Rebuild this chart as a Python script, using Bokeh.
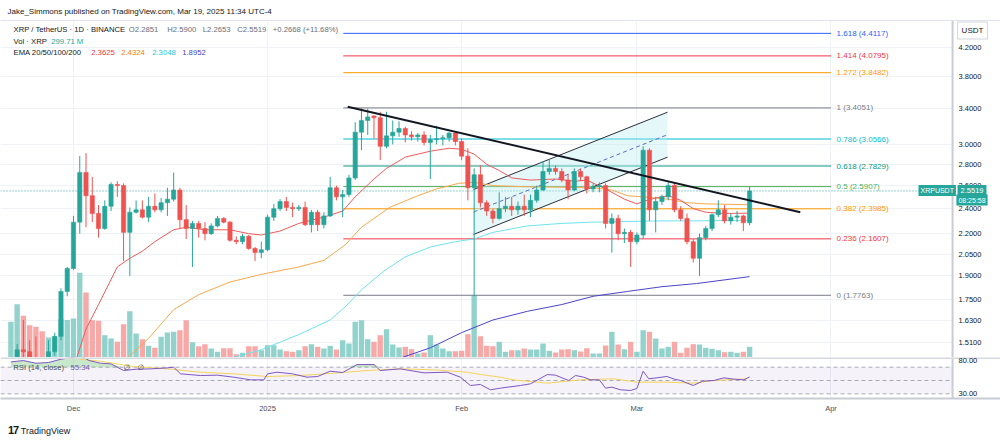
import pandas as pd
from bokeh.plotting import figure
from bokeh.layouts import column
from bokeh.models import (Range1d, LinearScale, FixedTicker, Label, Span, BoxAnnotation, Grid,
                          ColumnDataSource, Div)
from bokeh.core.properties import value
from bokeh.embed import file_html
from bokeh.resources import INLINE

FONT = "Liberation Sans"
UP, DOWN = "#26a69a", "#ef5350"
UP_VOL, DOWN_VOL = "#92d2cc", "#f7a9a8"
INK, GREY = "#131722", "#787b86"
GRID = "#eef1f6"

# ---------------- data (XRP / TetherUS, 1D, Binance) ----------------
dates = pd.date_range("2024-11-21", "2025-03-19", freq="D")
origin = pd.Timestamp("2024-12-01")   # x axis unit: days since 1 Dec 2024

opens = [1.12, 1.40, 1.47, 1.46, 1.43, 1.40, 1.39, 1.46, 1.54, 1.80,
         1.95, 2.29, 2.72, 2.51, 2.36, 2.24, 2.42, 2.61, 2.60, 2.21,
         2.37, 2.39, 2.33, 2.42, 2.39, 2.45, 2.48, 2.56, 2.31, 2.24,
         2.28, 2.24, 2.20, 2.26, 2.32, 2.29, 2.15, 2.14, 2.18, 2.09,
         2.06, 2.08, 2.33, 2.40, 2.46, 2.41, 2.40, 2.41, 2.27, 2.37,
         2.27, 2.34, 2.58, 2.50, 2.52, 2.67, 3.13, 3.26, 3.31, 3.29,
         2.98, 3.09, 3.13, 3.17, 3.10, 3.08, 3.10, 3.02, 3.05, 3.06,
         3.07, 3.12, 3.03, 2.88, 2.58, 2.70, 2.45, 2.38, 2.32, 2.40,
         2.42, 2.39, 2.42, 2.39, 2.47, 2.56, 2.73, 2.76, 2.73, 2.65,
         2.56, 2.73, 2.68, 2.57, 2.59, 2.60, 2.28, 2.32, 2.20, 2.21,
         2.14, 2.19, 2.94, 2.39, 2.46, 2.50, 2.60, 2.39, 2.32, 2.14,
         2.02, 2.17, 2.24, 2.35, 2.39, 2.30, 2.33, 2.34, 2.2851]
highs = [1.42, 1.50, 1.63, 1.52, 1.54, 1.43, 1.52, 1.56, 1.82, 1.96,
         2.34, 2.88, 2.91, 2.68, 2.43, 2.47, 2.63, 2.64, 2.62, 2.41,
         2.47, 2.47, 2.50, 2.53, 2.49, 2.58, 2.72, 2.58, 2.43, 2.30,
         2.30, 2.29, 2.28, 2.34, 2.33, 2.30, 2.18, 2.20, 2.19, 2.10,
         2.14, 2.35, 2.44, 2.48, 2.50, 2.45, 2.43, 2.46, 2.39, 2.39,
         2.37, 2.68, 2.60, 2.56, 2.70, 3.24, 3.40, 3.40, 3.32, 3.36,
         3.36, 3.26, 3.25, 3.19, 3.14, 3.12, 3.14, 3.10, 3.20, 3.10,
         3.13, 3.14, 3.06, 2.96, 2.76, 2.79, 2.47, 2.40, 2.54, 2.50,
         2.50, 2.46, 2.52, 2.52, 2.60, 2.83, 2.85, 2.79, 2.76, 2.71,
         2.76, 2.76, 2.69, 2.62, 2.63, 2.62, 2.36, 2.35, 2.24, 2.23,
         2.21, 2.98, 2.96, 2.50, 2.52, 2.63, 2.62, 2.42, 2.36, 2.16,
         2.20, 2.26, 2.36, 2.47, 2.43, 2.36, 2.38, 2.35, 2.59]
lows = [1.10, 1.36, 1.42, 1.38, 1.36, 1.30, 1.37, 1.44, 1.52, 1.77,
        1.94, 2.20, 2.25, 2.29, 2.17, 2.23, 2.38, 2.50, 2.00, 1.90,
        2.36, 2.32, 2.29, 2.37, 2.37, 2.34, 2.46, 2.24, 2.16, 1.96,
        2.17, 2.15, 2.19, 2.25, 2.28, 2.14, 2.12, 2.12, 2.08, 2.00,
        2.02, 2.07, 2.30, 2.38, 2.38, 2.33, 2.38, 2.26, 2.21, 2.22,
        2.24, 2.33, 2.47, 2.33, 2.50, 2.65, 2.94, 3.10, 3.06, 2.84,
        2.96, 3.00, 3.08, 3.02, 3.04, 3.03, 2.99, 2.66, 3.00, 2.99,
        3.03, 2.99, 2.84, 2.47, 1.77, 2.41, 2.34, 2.28, 2.31, 2.37,
        2.34, 2.35, 2.34, 2.33, 2.45, 2.55, 2.70, 2.70, 2.63, 2.48,
        2.55, 2.64, 2.53, 2.54, 2.54, 2.24, 2.06, 2.15, 2.13, 1.96,
        2.12, 2.16, 2.30, 2.21, 2.43, 2.47, 2.37, 2.30, 2.12, 1.99,
        1.90, 2.15, 2.22, 2.33, 2.28, 2.27, 2.29, 2.22, 2.2653]
closes = [1.40, 1.47, 1.46, 1.43, 1.40, 1.39, 1.46, 1.54, 1.80, 1.95,
          2.29, 2.72, 2.51, 2.36, 2.24, 2.42, 2.61, 2.60, 2.21, 2.37,
          2.39, 2.33, 2.42, 2.39, 2.45, 2.48, 2.56, 2.31, 2.24, 2.28,
          2.24, 2.20, 2.26, 2.32, 2.29, 2.15, 2.14, 2.18, 2.09, 2.06,
          2.08, 2.33, 2.40, 2.46, 2.41, 2.40, 2.41, 2.27, 2.37, 2.27,
          2.34, 2.58, 2.50, 2.52, 2.67, 3.13, 3.26, 3.30, 3.29, 2.98,
          3.09, 3.13, 3.17, 3.10, 3.08, 3.10, 3.02, 3.05, 3.06, 3.07,
          3.12, 3.03, 2.88, 2.58, 2.70, 2.45, 2.38, 2.32, 2.40, 2.42,
          2.39, 2.42, 2.39, 2.47, 2.56, 2.73, 2.76, 2.73, 2.65, 2.56,
          2.73, 2.68, 2.57, 2.59, 2.60, 2.28, 2.32, 2.20, 2.21, 2.14,
          2.19, 2.94, 2.39, 2.46, 2.50, 2.60, 2.39, 2.32, 2.14, 2.02,
          2.17, 2.24, 2.35, 2.39, 2.30, 2.33, 2.34, 2.2851, 2.5519]
volumes_m = [1000, 1490, 1170, 905, 860, 736, 560, 560, 1072, 1050,
             1090, 2370, 1820, 1045, 1028, 624, 532, 440, 932, 1296,
             672, 512, 328, 272, 580, 700, 720, 764, 1044, 428,
             316, 372, 252, 160, 260, 260, 92, 132, 316, 316,
             204, 344, 344, 224, 176, 160, 204, 316, 372, 300,
             252, 328, 224, 484, 392, 1000, 1044, 512, 440, 624,
             792, 364, 280, 300, 232, 112, 140, 624, 364, 252,
             176, 176, 188, 652, 1744, 596, 328, 316, 440, 160,
             204, 204, 252, 224, 224, 392, 188, 140, 224, 232,
             204, 168, 260, 112, 112, 336, 720, 364, 232, 440,
             160, 764, 720, 532, 252, 300, 440, 132, 272, 372,
             364, 272, 244, 204, 148, 160, 132, 160, 299.71]

# EMA lines (x = days since 1 Dec 2024)
ema20_x = [0, 2, 4, 7, 9, 11, 13, 16, 18, 21, 25, 28, 30, 33, 36, 40, 43, 45, 48, 50, 53, 57, 60,
           62, 64, 66, 68, 70, 73, 77, 80, 82, 85, 88, 90, 91, 93, 95, 97, 99, 101, 104, 108]
ema20_v = [1.38, 1.58, 1.72, 1.96, 2.02, 2.07, 2.14, 2.23, 2.25, 2.23, 2.23, 2.20, 2.19, 2.22, 2.28,
           2.33, 2.38, 2.50, 2.66, 2.76, 2.87, 2.93, 2.96, 2.95, 2.90, 2.80, 2.74, 2.67, 2.65, 2.66,
           2.64, 2.65, 2.57, 2.48, 2.44, 2.46, 2.49, 2.51, 2.47, 2.40, 2.37, 2.36, 2.3625]
ema50_x = [8, 12, 16, 20, 25, 30, 36, 40, 43.5, 46, 50.5, 55, 58, 61.5, 64, 67, 72, 78, 83, 86,
           88.5, 91, 95, 98, 101, 108]
ema50_v = [1.41, 1.53, 1.69, 1.78, 1.86, 1.91, 1.96, 2.005, 2.12, 2.25, 2.41, 2.51, 2.57, 2.62,
           2.63, 2.60, 2.59, 2.585, 2.58, 2.56, 2.51, 2.50, 2.48, 2.45, 2.44, 2.4324]
ema100_x = [25.4, 30, 36, 41, 43.5, 46, 49.5, 53, 57, 61, 64, 67, 72.5, 78, 83, 88.5, 94, 99, 108]
ema100_v = [1.43, 1.47, 1.55, 1.63, 1.71, 1.81, 1.93, 2.03, 2.10, 2.14, 2.16, 2.21, 2.26, 2.28,
            2.29, 2.295, 2.30, 2.30, 2.3048]
ema200_x = [52.4, 57, 62, 67, 72.5, 78, 83, 88.5, 94, 99.5, 108]
ema200_v = [1.43, 1.48, 1.56, 1.63, 1.68, 1.72, 1.77, 1.80, 1.83, 1.85, 1.8952]

# RSI (14, close) and its moving average
rsi_x = [-10, -8, -6, -4, -2, 0, 1, 2.5, 4.3, 6, 8, 10, 12.3, 15, 16, 17.1, 20.3, 23, 25.6, 28.3,
         30.4, 31, 32.5, 35, 37.3, 39, 41, 43, 45.3, 48, 49, 52.2, 56, 59.7, 61.8, 63.4, 65, 66.6,
         68.2, 71.4, 73, 75.7, 77, 79.1, 80.2, 81.5, 82.6, 84, 85, 86, 87.4, 89, 90, 91, 91.9, 94.8,
         96, 97, 99, 100.5, 102.3, 103.9, 105.5, 107.1, 108]
rsi_v = [78, 80, 76, 77, 82, 85, 88, 80, 76, 75, 65, 67, 67.5, 69, 70, 60, 57.5, 58, 55, 51,
         51, 60, 62.5, 60, 55, 56, 64, 62, 74, 74, 65, 67.5, 61.5, 62.5, 55, 42.5, 44, 36,
         38.5, 42.5, 45, 59, 58, 50, 57.5, 55, 51, 51, 38.5, 40, 36, 35, 38, 64, 52.5, 56,
         52, 50, 42.5, 49, 50, 54, 52, 51, 55.34]
rsima_x = [1, 4.3, 9.6, 15, 20.3, 25.6, 31, 36.3, 41.6, 46.9, 52.2, 57.6, 62.9, 65, 68.2, 70.3,
           75.7, 81, 86.3, 90, 94.8, 99, 102.3, 107.6]
rsima_v = [82, 79, 71, 67.5, 62.5, 60, 56, 57.5, 61, 65, 67.5, 66, 62.5, 59, 55, 51,
           46, 51, 52.5, 47.5, 47.5, 46, 50, 52.5]
rsi_bands = [70, 50, 30]

# Drawings
fib_ratios = ["0", "0.236", "0.382", "0.5", "0.618", "0.786", "1", "1.272", "1.414", "1.618"]
fib_prices = [1.7763, 2.1607, 2.3985, 2.5907, 2.7829, 3.0566, 3.4051, 3.8482, 4.0795, 4.4117]
fib_colors = ["#787b86", "#f23645", "#ff9800", "#4caf50", "#089981", "#00bcd4",
              "#787b86", "#ff9800", "#f23645", "#2962ff"]
fib_span = [43.1, 121.0]
trend_x, trend_p = [43.8, 116.1], [3.42, 2.37]
chan_x = [63.9, 94.9]
chan_lower = [2.194, 2.870]
chan_upper = [2.565, 3.355]
chan_mid = [2.372, 3.103]
last_price = 2.5519

month_dates = ["2024-12-01", "2025-01-01", "2025-02-01", "2025-03-01", "2025-04-01"]
month_labels = ["Dec", "2025", "Feb", "Mar", "Apr"]
price_ticks = [1.51, 1.63, 1.75, 1.90, 2.05, 2.20, 2.40, 2.60, 2.80, 3.00, 3.40, 3.80, 4.20]
rsi_ticks = [80, 30]

# ---------------- layout constants (screen) ----------------
W = 1000
MAIN_H = 357          # main frame: page y 0..357, header inside
RSI_H = 41            # rsi frame: page y 357..398
X_RANGE = (-11.66, 148.08)   # 6.26 px per day, Dec 1 at x=73
AXIS_D = 140.42              # day position of the price-scale border (x=952)
P_RANGE = (1.431, 4.945)     # log price range of the main frame
PANE_TOP = 4.613             # price at the chart's top border (y=20)
VOL_RANGE = (0, 9996)
RSI_RANGE = (22.93, 84.59)
LEG = "7.7px"

xs = [(d - origin).days for d in dates]
month_x = [(pd.Timestamp(m) - origin).days for m in month_dates]
x_range = Range1d(*X_RANGE)

up = [c >= o for o, c in zip(opens, closes)]
src = ColumnDataSource(dict(
    x=xs, o=opens, h=highs, l=lows, c=closes,
    top=[max(o, c) for o, c in zip(opens, closes)],
    bottom=[min(o, c) for o, c in zip(opens, closes)],
    color=[UP if u else DOWN for u in up],
    vcolor=[UP_VOL if u else DOWN_VOL for u in up],
    vol=volumes_m))

p = figure(frame_width=W, frame_height=MAIN_H, x_range=x_range, y_range=Range1d(*P_RANGE),
           y_axis_type="log", x_axis_location=None, y_axis_location=None,
           toolbar_location=None, output_backend="svg",
           min_border_left=0, min_border_right=0, min_border_top=0, min_border_bottom=0,
           outline_line_color=None, background_fill_color="white", border_fill_color="white")
p.extra_y_ranges = {"vol": Range1d(*VOL_RANGE)}
p.extra_y_scales = {"vol": LinearScale()}
for g in list(p.xgrid) + list(p.ygrid):
    g.visible = False
p.add_layout(Grid(dimension=0, ticker=FixedTicker(ticks=month_x), grid_line_color=GRID))
p.add_layout(Grid(dimension=1, ticker=FixedTicker(ticks=price_ticks), grid_line_color=GRID))
price_line = Span(location=last_price, dimension="width", line_color=UP, line_width=1,
                  line_dash="1 2", level="underlay")
p.add_layout(price_line)
# blank price-scale column and header strip
p.add_layout(BoxAnnotation(left=AXIS_D, fill_color="white", fill_alpha=1, line_color=None,
                           level="underlay"))
p.add_layout(BoxAnnotation(bottom=PANE_TOP, fill_color="white", fill_alpha=1, line_color=None,
                           level="underlay"))
p.add_layout(Span(location=PANE_TOP, dimension="width", line_color="#e0e3eb", line_width=1))

# volume
p.vbar(x="x", top="vol", bottom=0, width=0.86, fill_color="vcolor", line_color=None,
       y_range_name="vol", source=src)

# fib retracement
fib_src = ColumnDataSource(dict(
    xs=[fib_span for _ in fib_prices], ys=[[v, v] for v in fib_prices], color=fib_colors,
    lx=[fib_span[1] + 0.9 for _ in fib_prices], ly=fib_prices,
    text=[f"{r} ({v:.4f})" for r, v in zip(fib_ratios, fib_prices)]))
p.multi_line(xs="xs", ys="ys", line_color="color", line_width=1, source=fib_src)
p.text(x="lx", y="ly", text="text", text_color="color", text_font=value(FONT),
       text_font_size=value("8px"), text_baseline="middle", text_align="left", source=fib_src)

# ascending channel
p.patch(x=[chan_x[0], chan_x[1], chan_x[1], chan_x[0]],
        y=[chan_lower[0], chan_lower[1], chan_upper[1], chan_upper[0]],
        fill_color="#b2ebf2", fill_alpha=0.35, line_color=None)
p.line(chan_x, chan_lower, line_color="#2a2e39", line_width=1)
p.line(chan_x, chan_upper, line_color="#2a2e39", line_width=1)
p.line(chan_x, chan_mid, line_color="#5c6bc0", line_width=1, line_dash="4 3")

# EMAs
p.line(ema200_x, ema200_v, line_color="#4b45c8", line_width=1)
p.line(ema100_x, ema100_v, line_color="#6fe3ee", line_width=1)
p.line(ema50_x, ema50_v, line_color="#f9a84d", line_width=1)
p.line(ema20_x, ema20_v, line_color="#ef5a5a", line_width=1)

# candles
p.segment(x0="x", y0="l", x1="x", y1="h", line_color="color", line_width=1, source=src)
p.vbar(x="x", top="top", bottom="bottom", width=0.68, fill_color="color", line_color="color",
       line_width=0.6, source=src)

# descending trend line
p.line(trend_x, trend_p, line_color=INK, line_width=2)

# price-scale border
p.segment(x0=[AXIS_D], y0=[P_RANGE[0]], x1=[AXIS_D], y1=[PANE_TOP], line_color="#c9ccd4",
          line_width=2)


def lab(fig, x, y, text, size="8px", color=INK, font=FONT, y_units="screen", **kw):
    fig.add_layout(Label(x=x, y=y, x_units="screen", y_units=y_units, text=text,
                         text_font=font, text_font_size=size, text_color=color,
                         text_baseline="middle", **kw))


# price scale labels
for t in price_ticks:
    lab(p, 958, t, f"{t:.4f}", "7.5px", INK, y_units="data")

MB = MAIN_H  # page y of main frame bottom
lab(p, 7, MB - 11, "Jake_Simmons published on TradingView.com, Mar 19, 2025 11:34 UTC-4", "8px")
lab(p, 13, MB - 29.3, "XRP / TetherUS · 1D · BINANCE", LEG)
for px_, t in [(128.3, "O2.2851"), (166.7, "H2.5900"), (202.3, "L2.2653"),
               (236.7, "C2.5519"), (272.3, "+0.2668 (+11.68%)")]:
    lab(p, px_, MB - 29.3, t, LEG, "#6a6d78")
lab(p, 13, MB - 41, "Vol · XRP", LEG)
lab(p, 50.7, MB - 41, "299.71 M", LEG, UP)
lab(p, 13, MB - 52.3, "EMA 20/50/100/200", LEG)
for px_, t, c in [(90.7, "2.3625", "#f23645"), (120.7, "2.4324", "#f57c00"),
                  (151.7, "2.3048", "#26c6da"), (181.7, "1.8952", "#3f3fc6")]:
    lab(p, px_, MB - 52.3, t, LEG, c)

lab(p, 972, MB - 30, "USDT", "8px", INK, text_align="center",
    border_line_color="#d1d4dc", background_fill_color="white", padding=4)
lab(p, 918, MB - 190, "XRPUSDT", "7px", "white", background_fill_color=UP, padding=2)
lab(p, 971.5, MB - 190, "2.5519", "7.5px", "white", text_align="center",
    background_fill_color=UP, padding=3)
lab(p, 971.5, MB - 199.5, "08:25:58", "7px", "white", text_align="center",
    background_fill_color=UP, padding=2)

# ---------------- RSI pane ----------------
r = figure(frame_width=W, frame_height=RSI_H, x_range=x_range, y_range=Range1d(*RSI_RANGE),
           y_axis_location=None, toolbar_location=None, output_backend="svg",
           min_border_left=0, min_border_right=0, min_border_top=0, min_border_bottom=20,
           outline_line_color=None, background_fill_color="white", border_fill_color="white")
r.ygrid.visible = False
r.xgrid.ticker = FixedTicker(ticks=month_x)
r.xgrid.grid_line_color = GRID
r.add_layout(BoxAnnotation(bottom=rsi_bands[2], top=rsi_bands[0], right=AXIS_D,
                           fill_color="#7e57c2", fill_alpha=0.08, line_color=None,
                           level="underlay"))
for b in rsi_bands:
    r.add_layout(Span(location=b, dimension="width", line_color="#9598a1", line_width=1,
                      line_dash="4 3", line_alpha=0.8, level="underlay"))
r.add_layout(BoxAnnotation(left=AXIS_D, fill_color="white", fill_alpha=1, line_color=None,
                           level="underlay"))
r.add_layout(Span(location=RSI_RANGE[1], dimension="width", line_color="#d6d9e0", line_width=3))
r.varea(x=rsi_x, y1=[rsi_bands[0]] * len(rsi_x), y2=[max(v, rsi_bands[0]) for v in rsi_v],
        fill_color="#4caf50", fill_alpha=0.3)
r.line(rsima_x, rsima_v, line_color="#f5d35a", line_width=1)
r.line(rsi_x, rsi_v, line_color="#7e57c2", line_width=1)
r.segment(x0=[AXIS_D], y0=[RSI_RANGE[0]], x1=[AXIS_D], y1=[RSI_RANGE[1]], line_color="#c9ccd4",
          line_width=2)
for t in rsi_ticks:
    lab(r, 958, t, f"{t:.2f}", "7.5px", INK, y_units="data")

rx = r.xaxis[0]
rx.ticker = FixedTicker(ticks=month_x)
rx.major_label_overrides = {m: t for m, t in zip(month_x, month_labels)}
rx.major_label_text_font = FONT
rx.major_label_text_font_size = "7.5px"
rx.major_label_text_color = "#4a4e59"
rx.major_tick_line_color = None
rx.major_tick_out = 0
rx.major_tick_in = 0
rx.minor_tick_line_color = None
rx.axis_line_color = "#c9ccd4"
rx.axis_line_width = 2
rx.major_label_standoff = 5

RB = 357 + RSI_H  # page y of RSI frame bottom
lab(r, 12.7, RB - 366.7, "RSI (14, close)", LEG, "#4a4e59")
lab(r, 70, RB - 366.7, "55.34", LEG, "#7e57c2")
lab(r, 123, RB - 366.7, "∅", LEG, "#4a4e59", font="DejaVu Sans")
lab(r, 137, RB - 366.7, "∅", LEG, "#4a4e59", font="DejaVu Sans")

footer = Div(text=("<span style='font-weight:bold;font-size:11px;letter-spacing:-1px'>17</span>"
                   "&nbsp;TradingView"),
             width=W, height=19,
             styles={"font-family": FONT, "font-size": "9px", "color": INK,
                     "line-height": "14px", "padding-left": "3px"})

layout = column(p, r, footer, spacing=0)
open("out.html", "w").write(file_html(layout, INLINE, "XRPUSDT"))
